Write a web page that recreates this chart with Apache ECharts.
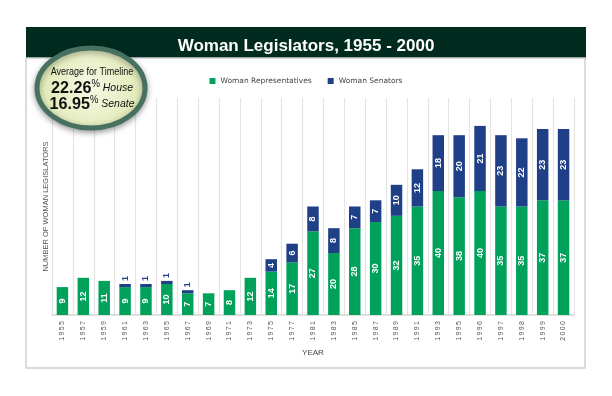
<!DOCTYPE html>
<html>
<head>
<meta charset="utf-8">
<script src="https://cdn.jsdelivr.net/npm/echarts@6/dist/echarts.min.js"></script>
<style>
  html, body { margin: 0; padding: 0; background: #fff; }
  #chart { width: 612px; height: 396px; }
</style>
</head>
<body>
<div id="chart"></div>
<script>
// 年份 / 众议院 / 参议院
var years = ["1955", "1957", "1959", "1961", "1963", "1965", "1967", "1969", "1971", "1973", "1975", "1977", "1981",
  "1983", "1985", "1987", "1989", "1991", "1993", "1995", "1996", "1997", "1998", "1999", "2000"];
var house = [9, 12, 11, 9, 9, 10, 7, 7, 8, 12, 14, 17, 27, 20, 28, 30, 32, 35, 40, 38, 40, 35, 35, 37, 37];
var senate = [0, 0, 0, 1, 1, 1, 1, 0, 0, 0, 4, 6, 8, 8, 7, 7, 10, 12, 18, 20, 21, 23, 22, 23, 23];
var houseAvg = "22.26";
var senateAvg = "16.95";

(function () {
  var green = "#00a25b";
  var navy = "#1f3f86";
  var myChart = echarts.init(document.getElementById("chart"));

  // 参议院: 数值很小的柱子标签放在柱顶
  var senateData = senate.map(function (v) {
    if (v > 0 && v < 3) {
      return {
        value: v,
        label: { position: "top", color: navy, align: "left", verticalAlign: "middle", distance: 3 }
      };
    }
    return v;
  });

  // 平均值文字样式
  var avgRich = {
    n: { fontSize: 17, fontWeight: "bold", fill: "#111", fontFamily: "Liberation Sans, Arial" },
    p: { fontSize: 10, fill: "#111", verticalAlign: "top", fontFamily: "Liberation Sans, Arial" },
    h: { fontSize: 11, fontStyle: "italic", fill: "#111", fontFamily: "Liberation Sans, Arial" }
  };

  var option = {
    animation: false,
    title: {
      text: "Woman Legislators, 1955 - 2000",
      left: "center",
      top: 33,
      textStyle: { color: "#fff", fontSize: 17, fontWeight: "bold", fontFamily: "Liberation Sans, Arial" }
    },
    legend: {
      top: 72,
      left: "center",
      icon: "rect",
      itemWidth: 6,
      itemHeight: 6,
      itemGap: 16,
      textStyle: { color: "#444", fontSize: 7.5, fontFamily: "DejaVu Sans" }
    },
    graphic: [
      { type: "rect", z: -10, shape: { x: 26, y: 27, width: 560, height: 31 }, style: { fill: "#022b20" } },
      { type: "rect", z: -10, shape: { x: 26, y: 58, width: 559, height: 310 },
        style: { fill: "#fff", stroke: "#cfcfcf", lineWidth: 1.5 } },
      {
        type: "ellipse", z: 10,
        shape: { cx: 91, cy: 88, rx: 54, ry: 40 },
        style: {
          fill: new echarts.graphic.RadialGradient(0.5, 0.5, 0.6, [
            { offset: 0, color: "#f7f9e4" },
            { offset: 1, color: "#dfe9b6" }
          ]),
          stroke: "#46705f",
          lineWidth: 5,
          shadowBlur: 6,
          shadowColor: "rgba(0,0,0,0.35)",
          shadowOffsetY: 2
        }
      },
      {
        type: "text", z: 11, x: 92, y: 72, scaleX: 0.82,
        style: { text: "Average for Timeline", fill: "#111", fontSize: 11,
          fontFamily: "Liberation Sans, Arial", align: "center", verticalAlign: "middle" }
      },
      {
        type: "text", z: 11, x: 92, y: 88, scaleX: 0.95,
        style: {
          text: "{n|" + houseAvg + "}{p|%}{h| House}",
          align: "center", verticalAlign: "middle",
          rich: avgRich
        }
      },
      {
        type: "text", z: 11, x: 92, y: 104, scaleX: 0.95,
        style: {
          text: "{n|" + senateAvg + "}{p|%}{h| Senate}",
          align: "center", verticalAlign: "middle",
          rich: avgRich
        }
      }
    ],
    grid: { left: 52, right: 38, top: 98, bottom: 81 },
    xAxis: {
      type: "category",
      data: years,
      name: "YEAR",
      nameLocation: "middle",
      nameGap: 33,
      nameTextStyle: { color: "#444", fontSize: 8 },
      axisTick: { show: false },
      axisLine: { lineStyle: { color: "#d6d6d6", width: 1.5 } },
      splitLine: { show: true, interval: 0, lineStyle: { color: "#e4e4e4", width: 1.2 } },
      axisLabel: {
        interval: 0,
        rotate: 90,
        margin: 6,
        color: "#555",
        fontSize: 7,
        formatter: function (v) { return v.split("").join("\u2009"); }
      }
    },
    yAxis: {
      type: "value",
      min: 0,
      max: 70,
      name: "NUMBER OF WOMAN LEGISLATORS",
      nameLocation: "middle",
      nameGap: 2,
      nameTextStyle: { color: "#555", fontSize: 7.5 },
      axisLabel: { show: false },
      axisLine: { show: false },
      axisTick: { show: false },
      splitLine: { show: false }
    },
    series: [
      {
        name: "Woman Representatives",
        type: "bar",
        stack: "total",
        barWidth: "55%",
        data: house,
        itemStyle: { color: green },
        label: {
          show: true,
          position: "inside",
          rotate: 90,
          color: "#fff",
          fontSize: 9,
          fontWeight: "bold"
        }
      },
      {
        name: "Woman Senators",
        type: "bar",
        stack: "total",
        barWidth: "55%",
        data: senateData,
        itemStyle: { color: navy },
        label: {
          show: true,
          position: "inside",
          rotate: 90,
          color: "#fff",
          fontSize: 9,
          fontWeight: "bold",
          formatter: function (p) { return p.value > 0 ? p.value : ""; }
        }
      }
    ]
  };
  myChart.setOption(option);
  window.addEventListener("resize", function () {
    myChart.resize();
  });
})();
</script>
</body>
</html>
